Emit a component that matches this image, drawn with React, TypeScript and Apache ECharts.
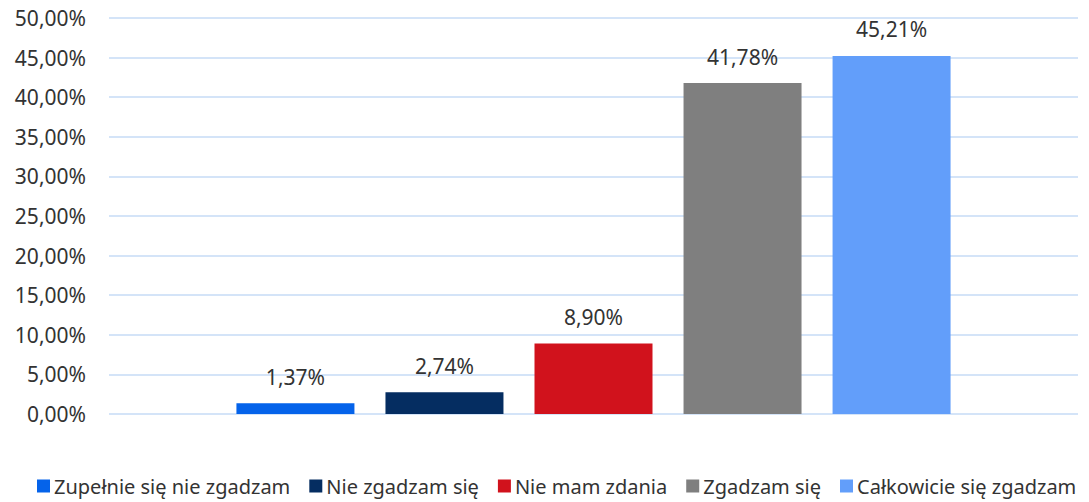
import React, { useEffect, useRef } from "react";
import * as echarts from "echarts";

const seriesNames = [
  "Zupełnie się nie zgadzam",
  "Nie zgadzam się",
  "Nie mam zdania",
  "Zgadzam się",
  "Całkowicie się zgadzam",
];
const seriesValues = [1.37, 2.74, 8.9, 41.78, 45.21];
const seriesColors = ["#0563EA", "#052D61", "#D1121C", "#7F7F7F", "#629EFA"];
const categories = [""];

const fmt = (v: number) => v.toFixed(2).replace(".", ",") + "%";

const FONT = "'Noto Sans', sans-serif";
const TEXT = "#333333";

export default function App() {
  const ref = useRef<HTMLDivElement>(null);
  useEffect(() => {
    if (!ref.current) return;
    const chart = echarts.init(ref.current, undefined, { renderer: "svg" });
    chart.setOption({
      animation: false,
      backgroundColor: "#ffffff",
      grid: { left: 109, right: 11, top: 18, bottom: 88, containLabel: false },
      legend: {
        bottom: 1,
        left: 32,
        itemWidth: 13,
        itemHeight: 13,
        itemGap: 19,
        icon: "rect",
        textStyle: { fontFamily: FONT, fontSize: 20, color: TEXT, padding: [0, 0, 0, -1] },
        data: seriesNames,
      },
      xAxis: {
        type: "category",
        data: categories,
        axisLine: { show: false },
        axisTick: { show: false },
        axisLabel: { show: false },
      },
      yAxis: {
        type: "value",
        min: 0,
        max: 50,
        interval: 5,
        axisLine: { show: false },
        axisTick: { show: false },
        axisLabel: {
          formatter: (v: number) => fmt(v),
          fontFamily: FONT,
          fontSize: 21,
          color: TEXT,
          margin: 23,
        },
        splitLine: { lineStyle: { color: "#C6DBF6", width: 1.5 } },
      },
      series: seriesNames.map((name, i) => ({
        name,
        type: "bar",
        barWidth: 118,
        barGap: "26.3%",
        itemStyle: { color: seriesColors[i] },
        label: {
          show: true,
          position: "top",
          distance: 16,
          formatter: (p: any) => fmt(p.value),
          fontFamily: FONT,
          fontSize: 21,
          color: TEXT,
        },
        data: [seriesValues[i]],
      })),
    });
    return () => chart.dispose();
  }, []);
  return (
    <div
      ref={ref}
      style={{ position: "fixed", left: 0, top: 0, width: 1089, height: 502 }}
    />
  );
}
